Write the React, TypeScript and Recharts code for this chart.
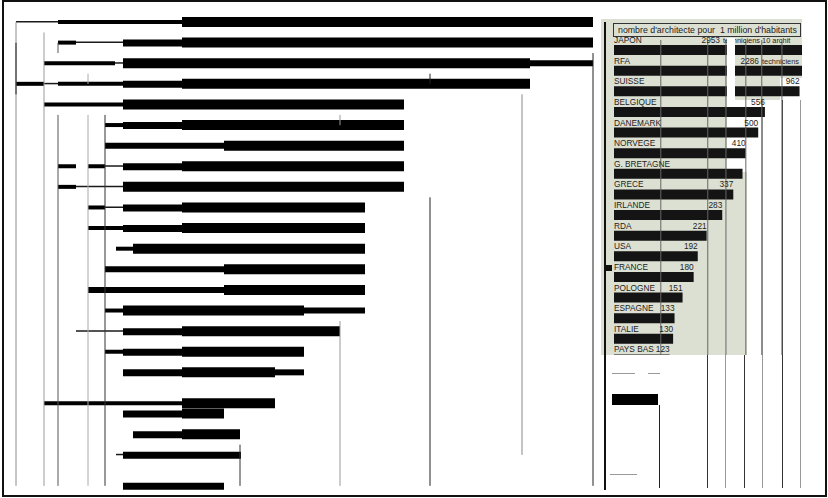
import React from "react";
import { BarChart, Bar, XAxis, YAxis, ReferenceLine, LabelList } from "recharts";

type Span = [number, number] | null;

// left panel: 23 rows of range bars, sitting on a half-row grid (46 slots)
const rowSlots = [0, 2, 4, 6, 8, 10, 12, 14, 16, 18, 20, 22, 24, 26, 28, 30, 32, 34, 37, 38, 40, 42, 45];
const slotCount = 46;

const thickSpans: Span[] = [
  [182, 593], [182, 593], [123, 530], [182, 530], [123, 404], [182, 404], [224, 404], [182, 404], [123, 404],
  [182, 365], [182, 365], [133, 365], [224, 365], [224, 365], [123, 304], [182, 340], [182, 304], [182, 275],
  [182, 275], [182, 224], [182, 240], null, null,
];
const bodySpans: Span[] = [
  null, [123, 182], null, [123, 182], null, [123, 182], null, [123, 182], null,
  [123, 182], [123, 182], null, null, null, null, [123, 182], [123, 182], [123, 182],
  null, [123, 182], [133, 182], [123, 241], [123, 224],
];
const wideSpans: Span[] = [
  null, null, [530, 593], null, null, null, [105, 224], null, null,
  null, null, null, [105, 224], [88, 224], [304, 365], null, null, [275, 304],
  null, null, null, null, null,
];
const stemSpans: Span[] = [
  [58, 182], [58, 76], [44, 115], [58, 123], [44, 123], [105, 123], null, [58, 76], [58, 76],
  [88, 105], [88, 123], [116, 133], null, null, [105, 123], null, [105, 123], null,
  [44, 182], null, null, null, null,
];
const stubSpans: Span[] = [
  null, null, null, [16, 44], null, null, null, [88, 105], null,
  null, null, null, null, null, null, null, null, null,
  null, null, null, null, null,
];
const lineSpans: Span[] = [
  [16, 58], [76, 123], [115, 123], [44, 58], null, null, null, [105, 123], [76, 123],
  [105, 123], null, null, null, null, null, [76, 123], null, null,
  null, null, null, [116, 123], null,
];

// inset: architects per million inhabitants
const countries = [
  "JAPON", "RFA", "SUISSE", "BELGIQUE", "DANEMARK", "NORVEGE", "G. BRETAGNE", "GRECE",
  "IRLANDE", "RDA", "USA", "FRANCE", "POLOGNE", "ESPAGNE", "ITALIE", "PAYS BAS",
];
const archPerMillion = [2953, 2286, 962, 556, 500, 410, 390, 337, 283, 221, 192, 180, 151, 133, 130, 123];
const valueLabels = ["2953", "2286", "962", "556", "500", "410", "", "337", "283", "221", "192", "180", "151", "133", "130", "123"];
const sideNotes = ["techniciens  10  archit", "techniciens", "", "", "", "", "", "", "", "", "", "", "", "", "", ""];

const leftRows = Array.from({ length: slotCount }, (_, s) => {
  const i = rowSlots.indexOf(s);
  const pick = (arr: Span[]) => (i >= 0 ? arr[i] : null);
  return {
    slot: `s${s}`,
    thick: pick(thickSpans),
    body: pick(bodySpans),
    wide: pick(wideSpans),
    stem: pick(stemSpans),
    stub: pick(stubSpans),
    line: pick(lineSpans),
  };
});

const insetRows = countries.map((country, i) => ({ country, value: archPerMillion[i] }));

const series = [
  { key: "line", size: 1.5, color: "#1a1a1a" },
  { key: "stem", size: 4, color: "#000" },
  { key: "stub", size: 4, color: "#000" },
  { key: "wide", size: 6, color: "#000" },
  { key: "body", size: 7, color: "#000" },
  { key: "thick", size: 10, color: "#000" },
];

// vertical rules of the left panel (x in bar units, from/to in slots)
const guides = [
  { x: 16, from: 0, to: 45, c: "#8c8c8c" },
  { x: 16, from: 2, to: 7, c: "#222" },
  { x: 44, from: 1, to: 45, c: "#9a9a9a" },
  { x: 58, from: 9, to: 45, c: "#555" },
  { x: 58, from: 2, to: 3, c: "#555" },
  { x: 88, from: 9, to: 45, c: "#aaa" },
  { x: 88, from: 5, to: 6, c: "#aaa" },
  { x: 105, from: 9, to: 45, c: "#333" },
  { x: 240, from: 41, to: 45, c: "#333" },
  { x: 340, from: 29, to: 45, c: "#999" },
  { x: 340, from: 9, to: 10, c: "#999" },
  { x: 430, from: 17, to: 45, c: "#222" },
  { x: 430, from: 5, to: 6, c: "#222" },
  { x: 522, from: 7, to: 42, c: "#888" },
  { x: 593, from: 3, to: 45, c: "#222" },
];

const cellEdges = [107, 225, 300, 411, 529, 728];
const DOMAIN_MAX = 1000;
const insetFont = "'Liberation Sans', Arial, sans-serif";

const renderInsetLabel = (props: any) => {
  const x = Number(props.x);
  const y = Number(props.y);
  const width = Number(props.width);
  const index = props.index as number;
  const plotRight = 201;
  const clipped = archPerMillion[index] > DOMAIN_MAX;
  // clipped bars: the figure sits in its own column, left of the note
  const valueEnd = clipped ? plotRight - (2 - index) * 41 - index * 2 : x + width;
  return (
    <g fontSize={8.3} fill="#1c1c1c" fontFamily={insetFont}>
      <text x={x} y={y - 2}>{countries[index]}</text>
      <text x={valueEnd} y={y - 2} textAnchor="end">{valueLabels[index]}</text>
      {sideNotes[index] ? <text x={valueEnd + 3} y={y - 2} fontSize={7.4}>{sideNotes[index]}</text> : null}
    </g>
  );
};

const paper = "#dce0d2";

export default function App() {
  return (
    <div style={{ position: "absolute", left: 0, top: 0, width: 828, height: 498, background: "#fff", overflow: "hidden", fontFamily: insetFont }}>
      {/* scanned inset paper */}
      <div style={{ position: "absolute", left: 601, top: 19, width: 201, height: 59, background: paper }} />
      <div style={{ position: "absolute", left: 601, top: 78, width: 179, height: 22, background: paper }} />
      <div style={{ position: "absolute", left: 601, top: 100, width: 126, height: 72, background: paper }} />
      <div style={{ position: "absolute", left: 601, top: 172, width: 146, height: 183, background: paper }} />
      <div style={{ position: "absolute", left: 613, top: 23, width: 188, height: 14, border: "1px solid #333", boxSizing: "border-box", fontSize: 8.8, color: "#1c1c1c", lineHeight: "12px", paddingLeft: 4, whiteSpace: "nowrap", overflow: "hidden" }}>
        nombre d'architecte pour&nbsp;&nbsp;1 million d'habitants
      </div>

      {/* rules below the inset */}
      {[707, 725, 744, 762, 782, 800].map((lx, i) => (
        <div key={lx} style={{ position: "absolute", left: lx, top: i < 3 ? 355 : 100, width: 1, height: i < 3 ? 133 : 388, background: i % 2 ? "#999" : "#333" }} />
      ))}
      <div style={{ position: "absolute", left: 604, top: 22, width: 2, height: 468, background: "#111" }} />
      <div style={{ position: "absolute", left: 612, top: 373, width: 23, height: 1, background: "#999" }} />
      <div style={{ position: "absolute", left: 648, top: 373, width: 12, height: 1, background: "#999" }} />
      <div style={{ position: "absolute", left: 612, top: 394, width: 46, height: 11, background: "#000" }} />
      <div style={{ position: "absolute", left: 659, top: 405, width: 1, height: 83, background: "#222" }} />
      <div style={{ position: "absolute", left: 610, top: 474, width: 27, height: 1, background: "#999" }} />

      <div style={{ position: "absolute", left: 0, top: 17, zIndex: 1 }}>
        <BarChart width={600} height={474} layout="vertical" data={leftRows} margin={{ top: 0, right: 0, bottom: 0, left: 0 }} barCategoryGap={0}>
          <XAxis type="number" domain={[0, 600]} hide />
          {series.map((s) => (
            <YAxis key={s.key} yAxisId={s.key} type="category" dataKey="slot" hide />
          ))}
          {guides.map((g, i) => (
            <ReferenceLine
              key={i}
              yAxisId="thick"
              stroke={g.c}
              strokeWidth={1}
              segment={[{ x: g.x, y: `s${g.from}` }, { x: g.x, y: `s${g.to}` }]}
            />
          ))}
          {series.map((s) => (
            <Bar key={s.key} yAxisId={s.key} dataKey={s.key} barSize={s.size} fill={s.color} isAnimationActive={false} />
          ))}
        </BarChart>
      </div>

      <div style={{ position: "absolute", left: 601, top: 19, width: 201, height: 336, overflow: "hidden", zIndex: 1 }}>
        <BarChart width={201} height={351} layout="vertical" data={insetRows} margin={{ top: 21, right: 0, bottom: 0, left: 13 }}>
          <XAxis type="number" scale="log" domain={[51, DOMAIN_MAX]} allowDataOverflow hide />
          <YAxis type="category" dataKey="country" hide />
          {cellEdges.map((v) => (
            <ReferenceLine key={v} x={v} stroke="#666" strokeWidth={1} />
          ))}
          <Bar dataKey="value" fill="#141414" barSize={10} isAnimationActive={false}>
            <LabelList dataKey="value" content={renderInsetLabel} />
          </Bar>
        </BarChart>
      </div>

      {/* scan seams on top */}
      <div style={{ position: "absolute", left: 727, top: 38, width: 8, height: 62, background: "#fff", zIndex: 2 }} />
      <div style={{ position: "absolute", left: 604, top: 265, width: 8, height: 6, background: "#111", zIndex: 2 }} />

      <div style={{ position: "absolute", left: 2, top: 0, width: 825, height: 497, border: "2px solid #111", boxSizing: "border-box", zIndex: 3, pointerEvents: "none" }} />
    </div>
  );
}
